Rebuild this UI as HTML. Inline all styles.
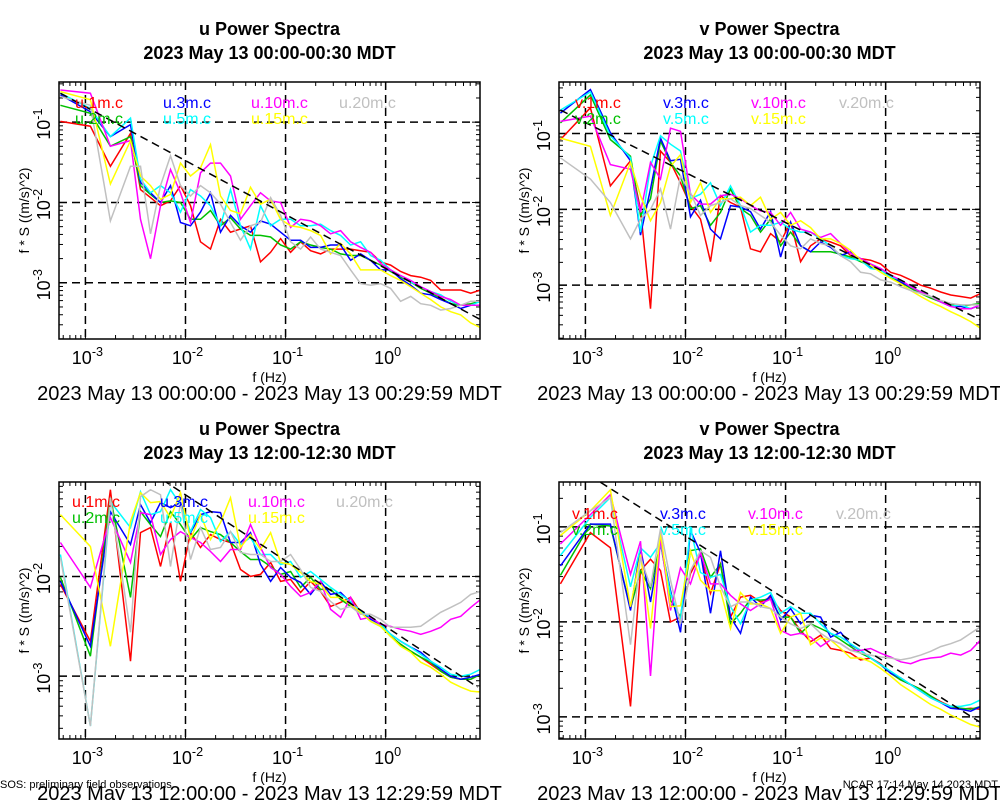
<!DOCTYPE html>
<html><head><meta charset="utf-8"><style>
html,body{margin:0;padding:0;background:#fff;}
svg{display:block;font-family:"Liberation Sans",Arial,sans-serif;}
</style></head><body>
<svg id="chart" width="1000" height="800" viewBox="0 0 1000 800" xmlns="http://www.w3.org/2000/svg">
<rect width="1000" height="800" fill="#fff"/>
</svg>
<script>
// ---- shared data ----
const logFreq = [-3.25,-2.95,-2.75,-2.55,-2.45,-2.35,-2.25,-2.15,-2.05,-1.95,-1.85,-1.75,-1.65,-1.55,-1.45,-1.35,-1.25,-1.15,-1.05,-0.95,-0.85,-0.75,-0.65,-0.55,-0.45,-0.35,-0.25,-0.15,-0.05,0.05,0.15,0.25,0.35,0.45,0.55,0.65,0.75,0.85,0.95];
const seriesHeights = ["1m","2m","3m","5m","10m","15m","20m"];
const seriesColors = ["#ff0000","#00c000","#0000ff","#00ffff","#ff00ff","#ffff00","#c0c0c0"];
const xTickExps = [-3,-2,-1,0];
const xTickLabels = ["10^-3","10^-2","10^-1","10^0"];

// panel 1: u 00:00
const p1_1m = [-0.99,-1.05,-1.55,-1.14,-1.84,-1.94,-2.04,-1.98,-1.79,-2.04,-2.49,-2.58,-2.21,-2.37,-2.33,-2.29,-2.74,-2.62,-2.45,-2.62,-2.49,-2.60,-2.64,-2.58,-2.58,-2.58,-2.60,-2.62,-2.74,-2.78,-2.86,-2.91,-2.93,-2.97,-3.09,-3.09,-3.09,-3.13,-3.09];
const p1_2m = [-0.79,-0.89,-1.30,-1.18,-1.79,-1.90,-2.00,-1.98,-2.00,-2.21,-2.21,-2.10,-2.29,-2.19,-2.33,-2.41,-2.41,-2.43,-2.53,-2.58,-2.49,-2.53,-2.56,-2.58,-2.64,-2.66,-2.66,-2.72,-2.78,-2.86,-2.93,-2.99,-3.07,-3.13,-3.19,-3.26,-3.28,-3.26,-3.23];
const p1_3m = [-0.66,-0.87,-1.18,-1.03,-1.75,-1.88,-2.00,-1.79,-2.25,-2.29,-2.12,-1.88,-2.37,-2.16,-2.29,-2.37,-2.23,-2.27,-2.37,-2.47,-2.47,-2.56,-2.56,-2.53,-2.53,-2.72,-2.64,-2.72,-2.84,-2.84,-2.95,-3.03,-3.13,-3.15,-3.21,-3.26,-3.32,-3.28,-3.28];
const p1_5m = [-0.64,-0.83,-1.18,-0.95,-1.71,-1.88,-1.79,-1.88,-2.12,-1.84,-1.92,-2.04,-2.29,-1.84,-2.29,-2.58,-2.04,-2.29,-2.21,-2.21,-2.29,-2.29,-2.27,-2.35,-2.41,-2.53,-2.49,-2.66,-2.72,-2.84,-2.91,-2.99,-3.05,-3.11,-3.15,-3.23,-3.28,-3.28,-3.23];
const p1_10m = [-0.60,-0.64,-1.30,-1.23,-2.21,-2.70,-2.04,-1.59,-1.88,-2.25,-1.63,-1.51,-1.51,-1.67,-2.21,-2.04,-1.88,-1.98,-2.00,-2.31,-2.21,-2.23,-2.29,-2.39,-2.35,-2.49,-2.56,-2.62,-2.76,-2.84,-2.91,-2.97,-3.05,-3.11,-3.17,-3.21,-3.28,-3.28,-3.28];
const p1_15m = [-0.62,-0.72,-1.77,-1.23,-1.67,-1.79,-1.96,-1.90,-1.51,-1.67,-1.57,-1.28,-1.92,-2.10,-2.14,-1.81,-2.02,-1.96,-2.21,-2.29,-2.31,-2.35,-2.41,-2.64,-2.51,-2.64,-2.84,-2.84,-2.84,-2.91,-2.97,-3.05,-3.13,-3.21,-3.30,-3.36,-3.40,-3.50,-3.56];
const p1_20m = [-0.68,-0.79,-2.23,-1.55,-1.55,-2.39,-1.79,-1.42,-1.79,-1.92,-1.79,-1.88,-2.02,-2.25,-2.47,-2.29,-2.25,-1.94,-2.16,-2.49,-2.58,-2.43,-2.58,-2.62,-2.66,-2.84,-3.01,-3.03,-3.01,-3.07,-3.23,-3.17,-3.26,-3.28,-3.34,-3.32,-3.28,-3.23,-3.23];
const p1_ref = [-3.25,-0.64,0.95,-3.46];

// panel 2: v 00:00
const p2_1m = [-1.08,-0.66,-1.69,-1.36,-2.00,-3.31,-1.23,-1.38,-1.65,-1.95,-2.13,-2.69,-1.82,-1.91,-1.97,-2.52,-2.56,-2.32,-2.43,-2.17,-2.69,-2.48,-2.39,-2.43,-2.48,-2.61,-2.65,-2.67,-2.72,-2.83,-2.87,-2.93,-3.00,-3.04,-3.09,-3.13,-3.15,-3.17,-3.11];
const p2_2m = [-0.86,-0.49,-1.08,-1.30,-2.08,-1.86,-1.10,-1.38,-1.56,-1.99,-1.95,-2.21,-2.04,-1.73,-1.99,-2.08,-2.30,-2.13,-2.48,-2.30,-2.48,-2.56,-2.56,-2.56,-2.59,-2.63,-2.69,-2.74,-2.80,-2.89,-2.96,-3.04,-3.11,-3.17,-3.22,-3.26,-3.28,-3.26,-3.24];
const p2_3m = [-0.73,-0.42,-0.99,-1.36,-2.34,-1.73,-1.06,-1.36,-1.34,-2.10,-1.88,-2.26,-2.39,-1.95,-1.97,-2.03,-2.26,-2.03,-2.63,-2.17,-2.48,-2.56,-2.43,-2.50,-2.61,-2.56,-2.67,-2.76,-2.78,-2.87,-2.96,-3.02,-3.09,-3.15,-3.22,-3.28,-3.28,-3.31,-3.26];
const p2_5m = [-0.69,-0.45,-1.03,-1.32,-2.30,-1.43,-1.03,-1.14,-1.23,-1.86,-1.80,-1.65,-1.95,-1.69,-1.95,-2.30,-2.21,-2.21,-2.17,-2.26,-2.30,-2.30,-2.39,-2.48,-2.61,-2.65,-2.67,-2.78,-2.80,-2.89,-2.93,-3.02,-3.09,-3.15,-3.22,-3.28,-3.26,-3.31,-3.26];
const p2_10m = [-0.84,-0.77,-1.41,-1.47,-2.04,-1.38,-1.60,-0.93,-0.97,-1.80,-1.93,-1.93,-1.82,-1.80,-1.86,-1.95,-2.02,-2.04,-2.21,-2.04,-2.26,-2.30,-2.37,-2.32,-2.45,-2.58,-2.65,-2.72,-2.78,-2.87,-2.93,-3.02,-3.09,-3.15,-3.22,-3.28,-3.31,-3.31,-3.26];
const p2_15m = [-1.06,-1.17,-2.08,-1.38,-1.82,-2.15,-1.91,-1.43,-1.28,-1.91,-1.65,-2.04,-1.86,-1.86,-1.84,-1.95,-1.84,-2.13,-2.04,-2.21,-2.15,-2.24,-2.39,-2.39,-2.45,-2.54,-2.67,-2.74,-2.83,-2.91,-2.98,-3.07,-3.15,-3.22,-3.28,-3.35,-3.41,-3.48,-3.57];
const p2_20m = [-1.32,-1.60,-1.91,-2.39,-2.13,-2.00,-1.73,-2.26,-1.56,-1.78,-2.08,-1.95,-1.91,-1.86,-1.95,-1.99,-2.08,-2.17,-2.34,-2.48,-2.52,-2.39,-2.45,-2.48,-2.61,-2.69,-2.83,-2.85,-2.93,-2.96,-3.02,-3.07,-3.11,-3.15,-3.20,-3.24,-3.26,-3.26,-3.26];
const p2_ref = [-3.25,-0.69,0.95,-3.46];

// panel 3: u 12:00
const p3_1m = [-2.08,-2.65,-1.13,-2.85,-1.56,-1.51,-1.90,-1.46,-2.05,-1.56,-1.71,-1.58,-1.63,-1.66,-1.93,-2.00,-1.98,-1.86,-2.05,-2.03,-2.16,-2.05,-2.15,-2.30,-2.26,-2.21,-2.36,-2.41,-2.48,-2.60,-2.68,-2.75,-2.81,-2.88,-2.95,-3.01,-3.03,-3.03,-2.98];
const p3_2m = [-2.01,-2.80,-1.21,-2.21,-1.35,-1.48,-1.60,-1.35,-1.48,-1.63,-1.51,-1.55,-1.58,-1.66,-1.75,-1.83,-1.83,-1.90,-1.98,-1.95,-2.11,-2.01,-2.13,-2.13,-2.23,-2.30,-2.36,-2.45,-2.50,-2.60,-2.68,-2.75,-2.81,-2.86,-2.95,-3.01,-3.03,-3.03,-2.98];
const p3_3m = [-2.05,-2.70,-1.35,-1.68,-1.28,-1.46,-1.26,-1.31,-1.26,-1.56,-1.38,-1.35,-1.36,-1.66,-1.66,-1.56,-1.88,-2.05,-1.91,-2.01,-2.06,-2.18,-2.05,-2.18,-2.16,-2.26,-2.35,-2.43,-2.48,-2.58,-2.65,-2.71,-2.76,-2.85,-2.93,-3.00,-3.03,-3.01,-2.98];
const p3_5m = [-1.78,-3.50,-1.25,-1.51,-1.15,-1.38,-1.35,-1.13,-1.28,-1.55,-1.33,-1.41,-1.65,-1.55,-1.68,-1.61,-1.78,-1.78,-1.88,-1.85,-2.01,-1.95,-2.03,-2.11,-2.18,-2.25,-2.35,-2.41,-2.48,-2.58,-2.65,-2.71,-2.78,-2.85,-2.91,-2.98,-3.00,-2.98,-2.93];
const p3_10m = [-1.66,-2.11,-1.41,-1.86,-1.36,-1.38,-1.78,-1.63,-1.55,-1.61,-1.66,-1.75,-1.85,-1.73,-1.73,-1.48,-1.71,-1.91,-1.98,-2.10,-2.20,-2.16,-2.05,-2.33,-2.41,-2.21,-2.43,-2.41,-2.48,-2.50,-2.53,-2.55,-2.58,-2.55,-2.51,-2.43,-2.40,-2.31,-2.23];
const p3_15m = [-1.38,-1.70,-2.70,-1.45,-1.16,-1.26,-1.25,-1.41,-1.16,-1.63,-1.38,-1.63,-1.46,-1.21,-1.71,-1.58,-1.73,-1.56,-1.86,-1.88,-1.96,-2.05,-2.08,-2.21,-2.21,-2.28,-2.36,-2.45,-2.50,-2.60,-2.70,-2.76,-2.86,-2.91,-2.98,-3.06,-3.11,-3.15,-3.16];
const p3_20m = [-1.81,-3.50,-1.21,-2.56,-1.20,-1.13,-1.18,-1.90,-1.26,-1.83,-1.51,-1.73,-1.71,-1.55,-1.76,-1.78,-1.78,-1.85,-1.85,-1.78,-1.93,-2.11,-2.15,-2.25,-2.33,-2.30,-2.38,-2.38,-2.43,-2.51,-2.51,-2.51,-2.50,-2.43,-2.36,-2.31,-2.26,-2.18,-2.15];
const p3_ref = [-2.23,-1.03,0.92,-3.11];

// panel 4: v 12:00
const p4_1m = [-1.60,-1.06,-1.22,-2.89,-1.46,-1.34,-1.46,-2.00,-1.95,-1.49,-1.29,-1.70,-1.39,-1.95,-1.74,-1.72,-1.79,-1.74,-1.88,-1.95,-2.09,-2.21,-2.14,-2.28,-2.30,-2.33,-2.40,-2.38,-2.44,-2.54,-2.61,-2.66,-2.71,-2.78,-2.84,-2.89,-2.92,-2.91,-2.92];
const p4_2m = [-1.51,-0.97,-0.99,-1.86,-1.46,-1.65,-1.17,-1.77,-1.95,-1.25,-1.23,-1.53,-1.39,-2.02,-1.91,-1.76,-1.77,-1.76,-1.95,-1.95,-2.12,-2.02,-2.07,-2.12,-2.19,-2.26,-2.33,-2.38,-2.45,-2.54,-2.61,-2.66,-2.71,-2.78,-2.85,-2.89,-2.91,-2.92,-2.89];
const p4_3m = [-1.41,-0.97,-0.97,-1.88,-1.22,-1.79,-1.17,-1.67,-2.11,-1.04,-1.27,-1.91,-1.25,-1.95,-2.12,-1.74,-1.84,-1.72,-1.98,-1.86,-2.02,-1.93,-1.95,-2.16,-2.11,-2.24,-2.30,-2.38,-2.45,-2.54,-2.59,-2.66,-2.73,-2.80,-2.85,-2.91,-2.92,-2.94,-2.89];
const p4_5m = [-1.30,-0.90,-0.69,-1.63,-1.22,-1.32,-1.17,-1.70,-1.98,-1.01,-1.48,-1.53,-1.50,-1.84,-2.02,-1.77,-1.74,-1.69,-1.91,-1.84,-1.91,-1.91,-2.02,-2.12,-2.16,-2.23,-2.30,-2.38,-2.45,-2.52,-2.59,-2.66,-2.73,-2.80,-2.85,-2.89,-2.89,-2.87,-2.82];
const p4_10m = [-1.18,-0.87,-0.66,-1.50,-1.15,-2.57,-1.11,-1.88,-1.43,-1.60,-1.27,-1.60,-1.60,-1.72,-1.81,-1.88,-1.81,-1.76,-2.09,-2.14,-2.12,-2.16,-2.26,-2.19,-2.23,-2.30,-2.30,-2.28,-2.33,-2.37,-2.42,-2.44,-2.40,-2.38,-2.37,-2.33,-2.35,-2.30,-2.19];
const p4_15m = [-1.09,-0.83,-0.61,-1.84,-1.29,-2.07,-1.06,-1.84,-1.83,-1.25,-1.56,-1.67,-1.67,-2.07,-1.69,-1.81,-1.81,-1.86,-2.12,-1.95,-1.91,-2.24,-2.17,-2.19,-2.28,-2.38,-2.38,-2.42,-2.49,-2.57,-2.66,-2.73,-2.80,-2.87,-2.92,-2.98,-3.03,-3.08,-3.11];
const p4_20m = [-1.06,-0.83,-0.69,-2.24,-1.32,-1.63,-1.02,-1.56,-2.02,-1.46,-1.25,-1.32,-1.63,-1.84,-1.79,-1.79,-1.84,-1.86,-1.95,-2.02,-2.07,-2.02,-2.12,-2.19,-2.23,-2.30,-2.33,-2.35,-2.37,-2.38,-2.40,-2.38,-2.35,-2.31,-2.26,-2.23,-2.19,-2.12,-2.05];
const p4_ref = [-2.85,-0.53,0.95,-3.06];

const panels = [
 {id:"u-00", v:"u", title:"u Power Spectra", time:"2023 May 13 00:00-00:30 MDT", sub:"2023 May 13 00:00:00 - 2023 May 13 00:29:59 MDT",
  box:[59,82,480,339], xr:[-3.264,0.943], yr:[-3.70,-0.50], yt:[-1,-2,-3], series:[p1_1m,p1_2m,p1_3m,p1_5m,p1_10m,p1_15m,p1_20m], ref:p1_ref, leg:[75,108]},
 {id:"v-00", v:"v", title:"v Power Spectra", time:"2023 May 13 00:00-00:30 MDT", sub:"2023 May 13 00:00:00 - 2023 May 13 00:29:59 MDT",
  box:[559,82,980,339], xr:[-3.264,0.943], yr:[-3.71,-0.32], yt:[-1,-2,-3], series:[p2_1m,p2_2m,p2_3m,p2_5m,p2_10m,p2_15m,p2_20m], ref:p2_ref, leg:[575,108]},
 {id:"u-12", v:"u", title:"u Power Spectra", time:"2023 May 13 12:00-12:30 MDT", sub:"2023 May 13 12:00:00 - 2023 May 13 12:29:59 MDT",
  box:[59,482,480,739], xr:[-3.264,0.943], yr:[-3.63,-1.053], yt:[-2,-3], series:[p3_1m,p3_2m,p3_3m,p3_5m,p3_10m,p3_15m,p3_20m], ref:p3_ref, leg:[72,507]},
 {id:"v-12", v:"v", title:"v Power Spectra", time:"2023 May 13 12:00-12:30 MDT", sub:"2023 May 13 12:00:00 - 2023 May 13 12:29:59 MDT",
  box:[559,482,980,739], xr:[-3.264,0.943], yr:[-3.233,-0.527], yt:[-1,-2,-3], series:[p4_1m,p4_2m,p4_3m,p4_5m,p4_10m,p4_15m,p4_20m], ref:p4_ref, leg:[572,519]}
];
// legend order: row1: 1m,3m,10m,20m ; row2: 2m,5m,15m
const legendSlots = [[0,0],[1,0],[0,1],[1,1],[0,2],[1,2],[0,3]];

const NS = "http://www.w3.org/2000/svg";
const svg = document.getElementById("chart");
function mk(tag, attrs, parent){ const e=document.createElementNS(NS,tag); for(const k in attrs) e.setAttribute(k,attrs[k]); (parent||svg).appendChild(e); return e; }
function powText(parent, x, y, exp, anchor, rot, size){
  const t = mk("text",{x:x,y:y,"font-size":size,"text-anchor":anchor,fill:"#000"},parent);
  if(rot) t.setAttribute("transform","rotate(-90 "+x+" "+y+")");
  t.appendChild(document.createTextNode("10"));
  const s = mk("tspan",{"font-size":size*0.7,dy:-size*0.45},t);
  s.textContent = String(exp);
  return t;
}

panels.forEach((p,pi)=>{
  const g = mk("g",{});
  
  
  const [X0,Y0,X1,Y1] = p.box;
  const sx = v => X0 + (v - p.xr[0])/(p.xr[1]-p.xr[0])*(X1-X0);
  const sy = v => Y1 - (v - p.yr[0])/(p.yr[1]-p.yr[0])*(Y1-Y0);
  const cx = (X0+X1)/2;
  const t1 = mk("text",{x:cx,y:Y0-47,"font-size":18,"font-weight":"bold","text-anchor":"middle"},g);
  t1.textContent = p.title;
  
  
  const t2 = mk("text",{x:cx,y:Y0-23,"font-size":18,"font-weight":"bold","text-anchor":"middle"},g);
  t2.textContent = p.time;
  
  
  const cp = mk("clipPath",{id:"clip"+pi},g);
  mk("rect",{x:X0,y:Y0,width:X1-X0,height:Y1-Y0},cp);
  xTickExps.forEach(e=>{
    const gl = mk("line",{x1:sx(e),x2:sx(e),y1:Y0,y2:Y1,stroke:"#000","stroke-width":1.5,"stroke-dasharray":"8,5"},g);
    
    
  });
  p.yt.forEach(e=>{
    const gl = mk("line",{x1:X0,x2:X1,y1:sy(e),y2:sy(e),stroke:"#000","stroke-width":1.5,"stroke-dasharray":"8,5"},g);
    
    
  });
  for(let d=-4; d<=1; d++){
    for(let m=1;m<=9;m++){
      const lv = d + Math.log10(m);
      const len = m===1?8:4;
      if(lv>=p.xr[0] && lv<=p.xr[1]){
        mk("line",{x1:sx(lv),x2:sx(lv),y1:Y1,y2:Y1-len,stroke:"#000","stroke-width":1},g);
        mk("line",{x1:sx(lv),x2:sx(lv),y1:Y0,y2:Y0+len,stroke:"#000","stroke-width":1},g);
      }
      if(lv>=p.yr[0] && lv<=p.yr[1]){
        mk("line",{x1:X0,x2:X0+len,y1:sy(lv),y2:sy(lv),stroke:"#000","stroke-width":1},g);
        mk("line",{x1:X1,x2:X1-len,y1:sy(lv),y2:sy(lv),stroke:"#000","stroke-width":1},g);
      }
    }
  }
  const sg = mk("g",{"clip-path":"url(#clip"+pi+")"},g);
  p.series.forEach((vals,si)=>{
    const pts = vals.map((v,i)=>sx(logFreq[i]).toFixed(1)+","+sy(v).toFixed(1)).join(" ");
    const pl = mk("polyline",{points:pts,fill:"none",stroke:seriesColors[si],"stroke-width":1.5},sg);
    
    
  });
  const rl = mk("line",{x1:sx(p.ref[0]),y1:sy(p.ref[1]),x2:sx(p.ref[2]),y2:sy(p.ref[3]),stroke:"#000","stroke-width":1.5,"stroke-dasharray":"8,5"},sg);
  
  
  const br = mk("rect",{x:X0,y:Y0,width:X1-X0,height:Y1-Y0,fill:"none",stroke:"#000","stroke-width":1.5},g);
  
  
  seriesHeights.forEach((h,si)=>{
    const [row,col] = legendSlots[si];
    const lt = mk("text",{x:p.leg[0]+col*88,y:p.leg[1]+row*16,"font-size":16,fill:seriesColors[si]},g);
    lt.textContent = p.v+"."+h+".c";
    
    
  });
  xTickExps.forEach(e=>{
    const tl = powText(g, sx(e)+2, Y1+25, e, "middle", false, 18);
    
    
  });
  p.yt.forEach(e=>{
    const tl = powText(g, X0-9, sy(e)+2, e, "middle", true, 18);
    
    
  });
  const xl = mk("text",{x:cx,y:Y1+43,"font-size":14,"text-anchor":"middle"},g);
  xl.textContent = "f (Hz)";
  
  
  const yx = X0-30, yy=(Y0+Y1)/2;
  const yl = mk("text",{x:yx,y:yy,"font-size":14,"text-anchor":"middle",transform:"rotate(-90 "+yx+" "+yy+")"},g);
  yl.textContent = "f * S ((m/s)^2)";
  
  
  const st = mk("text",{x:cx,y:Y1+61,"font-size":20,"text-anchor":"middle"},g);
  st.textContent = p.sub;
  
  
});
const f1 = mk("text",{x:0,y:788,"font-size":11});
f1.textContent = "SOS: preliminary field observations";


const f2 = mk("text",{x:998,y:788,"font-size":11,"text-anchor":"end"});
f2.textContent = "NCAR 17:14 May 14 2023 MDT";


</script>
</body></html>
